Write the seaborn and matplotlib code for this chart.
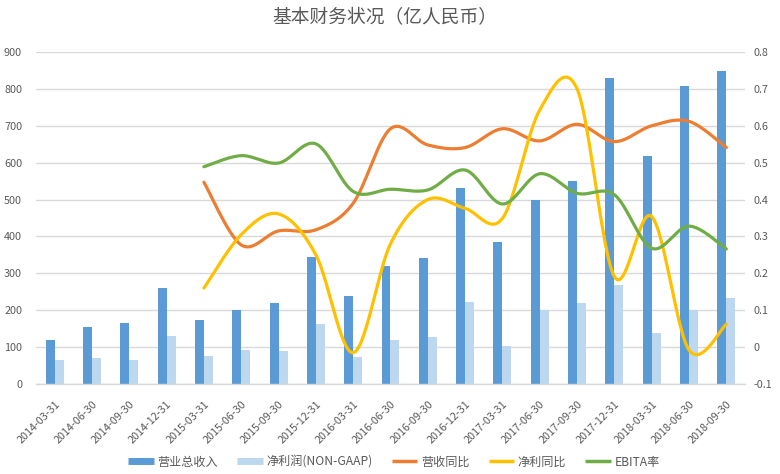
import numpy as np
import pandas as pd
import matplotlib
matplotlib.use("Agg")
import matplotlib.pyplot as plt
import seaborn as sns
from matplotlib.lines import Line2D

# ---------------- data ----------------
dates = ["2014-03-31", "2014-06-30", "2014-09-30", "2014-12-31",
         "2015-03-31", "2015-06-30", "2015-09-30", "2015-12-31",
         "2016-03-31", "2016-06-30", "2016-09-30", "2016-12-31",
         "2017-03-31", "2017-06-30", "2017-09-30", "2017-12-31",
         "2018-03-31", "2018-06-30", "2018-09-30"]
revenue = [120, 155, 165, 260, 174, 201, 220, 345, 239, 320,
           341, 531, 385, 498, 550, 829, 618, 807, 848]
net_profit = [65, 70, 65, 130, 76, 92, 90, 163, 73, 120,
              127, 222, 103, 200, 220, 268, 138, 200, 233]
# ratio series start at 2015-03-31
line_dates = dates[4:]
rev_yoy = [0.447, 0.277, 0.315, 0.318, 0.39, 0.592, 0.548, 0.541,
           0.592, 0.559, 0.604, 0.557, 0.60, 0.612, 0.541]
profit_yoy = [0.160, 0.305, 0.361, 0.25, -0.015, 0.28, 0.40, 0.376,
              0.349, 0.643, 0.70, 0.191, 0.354, -0.008, 0.062]
ebita = [0.489, 0.519, 0.499, 0.551, 0.422, 0.428, 0.426, 0.480,
         0.388, 0.470, 0.417, 0.413, 0.268, 0.328, 0.266]

bar_names = ["营业总收入", "净利润(NON-GAAP)"]
line_names = ["营收同比", "净利同比", "EBITA率"]
title = "基本财务状况（亿人民币）"

# ---------------- style ----------------
sns.set_theme(style="white")
plt.rcParams["font.family"] = ["Noto Sans CJK SC", "DejaVu Sans"]
TXT = "#595959"
GRID = "#D9D9D9"
C_BAR = ["#5B9BD5", "#BDD7EE"]
C_LINE = ["#ED7D31", "#FFC000", "#70AD47"]

fig = plt.figure(figsize=(7.8, 4.74), dpi=100)
ax = fig.add_axes([36 / 780, 1 - 384 / 474, (745 - 36) / 780, (384 - 52) / 474])

df = pd.DataFrame({
    "date": dates * 2,
    "value": revenue + net_profit,
    "series": [bar_names[0]] * len(dates) + [bar_names[1]] * len(dates),
})
sns.barplot(data=df, x="date", y="value", hue="series", order=dates,
            hue_order=bar_names, palette=C_BAR, saturation=1, width=0.48,
            gap=0, legend=False, ax=ax, linewidth=0)

ax.set_xlim(-0.5, len(dates) - 0.5)
ax.set_ylim(0, 900)
ax.set_yticks(np.arange(0, 901, 100))
ax.yaxis.grid(True, color=GRID, linewidth=1)
ax.set_axisbelow(True)
for s in ["top", "right", "left"]:
    ax.spines[s].set_visible(False)
ax.spines["bottom"].set_color(GRID)
ax.spines["bottom"].set_linewidth(1)
ax.set_xlabel("")
ax.set_ylabel("")
ax.tick_params(axis="both", length=0, colors=TXT, labelsize=7.8)
ax.tick_params(axis="y", pad=10)
ax.set_xticks(range(len(dates)))
ax.set_xticklabels(dates, rotation=45, ha="right", rotation_mode="anchor",
                   fontsize=7.8, color=TXT)
ax.tick_params(axis="x", pad=11)

# ---------------- lines (smoothed like Excel) ----------------
ax2 = ax.twinx()


def smooth(xs, ys, n=30):
    xs = np.asarray(xs, float)
    ys = np.asarray(ys, float)
    P = np.column_stack([xs, ys])
    P = np.vstack([P[0], P, P[-1]])
    out = []
    for i in range(1, len(P) - 2):
        p0, p1, p2, p3 = P[i - 1], P[i], P[i + 1], P[i + 2]
        c1 = p1 + (p2 - p0) / 6
        c2 = p2 - (p3 - p1) / 6
        t = np.linspace(0, 1, n)[:, None]
        seg = ((1 - t) ** 3) * p1 + 3 * ((1 - t) ** 2) * t * c1 + 3 * (1 - t) * t ** 2 * c2 + t ** 3 * p2
        out.append(seg if i == 1 else seg[1:])
    out = np.vstack(out)
    return out[:, 0], out[:, 1]


xpos = [dates.index(d) for d in line_dates]
for vals, col in zip([rev_yoy, profit_yoy, ebita], C_LINE):
    sx, sy = smooth(xpos, vals)
    ax2.plot(sx, sy, color=col, linewidth=2.3, solid_capstyle="round")

ax2.set_ylim(-0.1, 0.8)
ticks_r = np.round(np.arange(-0.1, 0.81, 0.1), 1)
ax2.set_yticks(ticks_r)
ax2.set_yticklabels([f"{v:g}" for v in ticks_r])
ax2.tick_params(axis="y", length=0, colors=TXT, labelsize=7.8, pad=6)
for s in ["top", "right", "left", "bottom"]:
    ax2.spines[s].set_visible(False)
ax2.grid(False)
ax2.set_xlim(-0.5, len(dates) - 0.5)

# ---------------- title & legend ----------------
fig.text(0.493, 1 - 18 / 474, title, ha="center", va="center",
         fontsize=13.5, color=TXT)

handles = [Line2D([], [], color=C_BAR[0], linewidth=5, solid_capstyle="butt"),
           Line2D([], [], color=C_BAR[1], linewidth=5, solid_capstyle="butt")]
handles += [Line2D([], [], color=c, linewidth=2.5, solid_capstyle="butt") for c in C_LINE]
leg = fig.legend(handles, bar_names + line_names, loc="center",
                 bbox_to_anchor=(394 / 780, 1 - 462 / 474), ncol=5, frameon=False,
                 fontsize=8.7, handlelength=2.1, handletextpad=0.3,
                 columnspacing=1.6, labelcolor=TXT)

fig.savefig("out.png", dpi=100)
